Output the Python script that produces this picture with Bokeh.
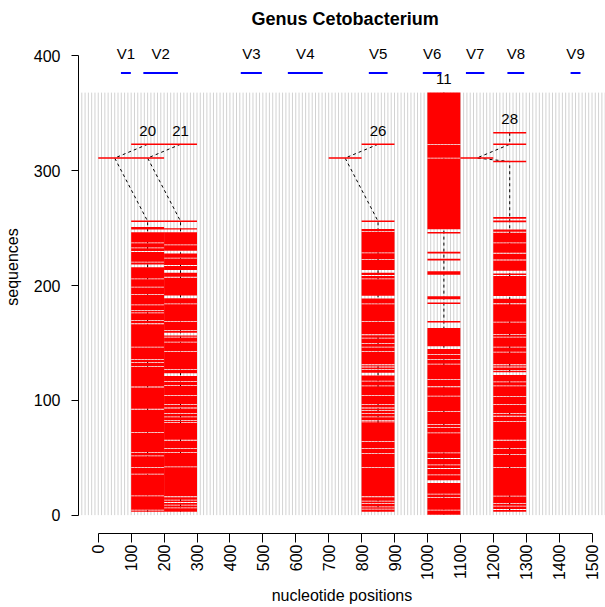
import math
import numpy as np
from bokeh.plotting import figure
from bokeh.models import Range1d, FixedTicker
from bokeh.embed import file_html
from bokeh.resources import INLINE
from bokeh.core.properties import value

FONT = "Liberation Sans"

title = "Genus Cetobacterium"
x_label = "nucleotide positions"
y_label = "sequences"
x_ticks = [0, 100, 200, 300, 400, 500, 600, 700, 800, 900, 1000, 1100, 1200, 1300, 1400, 1500]
y_ticks = [0, 100, 200, 300, 400]
n_sequences = 368

# 16S variable regions
v_names = ["V1", "V2", "V3", "V4", "V5", "V6", "V7", "V8", "V9"]
v_start = [69, 137, 433, 576, 822, 986, 1117, 1243, 1435]
v_end = [99, 242, 497, 682, 879, 1043, 1173, 1294, 1465]

# clusters: label and nucleotide span
cluster_ids = ["20", "21", "26", "11", "28"]
cluster_start = [100, 200, 800, 1000, 1200]
cluster_end = [200, 300, 900, 1100, 1300]

# cluster 20
rows_20 = [323, 256]
shift_20 = [(311, 0, 100)]
blocks_20 = [(3, 251)]
gaps_20 = [237.1, 232.8, 229.6, 220.3, 205.8, 198.6, 192.2, 183.2, 178.3, 176.2, 169.6,
           166.7, 146.4, 135.4, 132.8, 129.6, 111.6, 92.2, 71.9, 54.5, 51.6, 41.4, 35.7,
           16.8, 4.3]
wide_20 = [247.5, 217.0]

# cluster 21
rows_21 = [323, 256]
shift_21 = [(311, 100, 200)]
blocks_21 = [(3, 249.8)]
gaps_21 = [235.4, 223.8, 217.4, 207.2, 184.0, 168.7, 160.9, 155.1, 150.7, 142.6, 127.0,
           116.5, 113.0, 104.3, 96.2, 93.3, 88.4, 85.5, 82.6, 80.6, 65.2, 58.0, 54.5,
           42.0, 16.0, 13.1, 11.0, 8.7, 6.4]
wide_21 = [247.5, 229.0, 212.2, 190.1, 157.7, 122.3]

# cluster 26
rows_26 = [323, 256]
shift_26 = [(311, 700, 800)]
blocks_26 = [(3, 249.3)]
gaps_26 = [247.2, 228.4, 222.6, 208.7, 205.8, 184.0, 168.7, 157.1, 154.2, 149.3, 146.4,
           142.6, 131.0, 129.0, 127.0, 116.8, 112.5, 104.3, 96.2, 93.3, 91.3, 88.4, 85.5,
           82.6, 81.2, 64.3, 58.0, 53.6, 41.4, 16.0, 12.2, 10.1, 7.2, 5.2]
wide_26 = [212.2, 189.9, 122.9]

# cluster 11
rows_11 = [245.9, 228.6, 222.5, 184.6, 168.4]
shift_11 = []
blocks_11 = [(249, 368), (209.3, 212.4), (188.1, 190.7), (0.3, 163)]
gaps_11 = [323, 311, 140.0, 135.4, 131.6, 118.1, 111.8, 103.7, 90.1, 79.1, 76.2, 71.6,
           54.2, 49.3, 43.8, 40.6, 35.1, 18.3, 15.4, 4.3]
wide_11 = [145.8, 29.1]

# cluster 28
rows_28 = [333, 323, 308, 258.9, 255.9]
shift_28 = [(311, 1100, 1200)]
blocks_28 = [(3, 248.7)]
gaps_28 = [246.4, 237.1, 228.1, 222.2, 208.7, 184.1, 168.1, 157.4, 155.1, 146.4, 142.0,
           131.0, 129.0, 126.1, 116.0, 112.5, 103.5, 96.5, 88.4, 86.1, 81.7, 65.2, 58.0,
           53.0, 41.4, 16.5, 10.1, 7.8, 4.9]
wide_28 = [211.6, 189.6, 123.2]

clusters = {
    "20": (rows_20, shift_20, blocks_20, gaps_20, wide_20),
    "21": (rows_21, shift_21, blocks_21, gaps_21, wide_21),
    "26": (rows_26, shift_26, blocks_26, gaps_26, wide_26),
    "11": (rows_11, shift_11, blocks_11, gaps_11, wide_11),
    "28": (rows_28, shift_28, blocks_28, gaps_28, wide_28),
}

# frame spans the whole canvas top so the title can sit inside it as text
Y_TOP = 416 + 37 / 1.148
p = figure(width=605, height=607, x_range=Range1d(-60, 1541), y_range=Range1d(-16, Y_TOP),
           output_backend="svg", toolbar_location=None,
           min_border_left=77, min_border_right=0, min_border_top=0, min_border_bottom=74)
p.xgrid.visible = False
p.ygrid.visible = False
p.outline_line_color = None
p.background_fill_color = "white"
p.border_fill_color = "white"

# background nucleotide grid
grid_x = np.arange(-50, 1551, 10)
p.segment(x0=grid_x, x1=grid_x, y0=0, y1=n_sequences, line_color="#d2d2d2", line_width=1)

HALF = 0.7
q_left, q_right, q_bottom, q_top = [], [], [], []
dash_paths_x, dash_paths_y = [], []
lab_x, lab_y = [], []
for cid, x0, x1 in zip(cluster_ids, cluster_start, cluster_end):
    rows, shifts, blocks, gaps, wide = clusters[cid]
    mid = (x0 + x1) / 2
    pts = []
    for y in rows:
        q_left.append(x0); q_right.append(x1)
        q_bottom.append(y - HALF); q_top.append(y + HALF)
        pts.append((y, mid))
    for (y, sx0, sx1) in shifts:
        q_left.append(sx0); q_right.append(sx1)
        q_bottom.append(y - HALF); q_top.append(y + HALF)
        pts.append((y, (sx0 + sx1) / 2))
    cuts = [(g, 0.7) for g in gaps] + [(g, 2.4) for g in wide]
    for lo, hi in blocks:
        inside = sorted([c for c in cuts if lo < c[0] < hi], key=lambda c: -c[0])
        top = hi
        for y, w in inside:
            q_left.append(x0); q_right.append(x1)
            q_bottom.append(y + w / 2); q_top.append(top)
            top = y - w / 2
        q_left.append(x0); q_right.append(x1)
        q_bottom.append(lo); q_top.append(top)
        pts.append((lo, mid)); pts.append((hi, mid))
    pts.sort(key=lambda t: -t[0])
    dash_paths_x.append([t[1] for t in pts])
    dash_paths_y.append([t[0] for t in pts])
    lab_x.append(pts[0][1])
    lab_y.append(pts[0][0] + 12)

p.multi_line(xs=dash_paths_x, ys=dash_paths_y, line_color="black", line_width=1, line_dash="3 3")

p.quad(left=q_left, right=q_right, bottom=q_bottom, top=q_top,
       fill_color="#ff0000", line_color=None)

p.text(x=lab_x, y=lab_y, text=cluster_ids, text_font=value(FONT), text_font_size="15px",
       text_align="center", text_baseline="middle", text_color="black")

# variable regions
v_mid = [(a + b) / 2 for a, b in zip(v_start, v_end)]
p.segment(x0=v_start, x1=v_end, y0=385, y1=385, line_color="#0000ff", line_width=2)
p.text(x=v_mid, y=[402] * len(v_mid), text=v_names, text_font=value(FONT), text_font_size="15px",
       text_align="center", text_baseline="middle", text_color="black")

# title
p.text(x=[750], y=[416 + 19 / 1.148], text=[title], text_font=value(FONT), text_font_size="18px",
       text_font_style="bold", text_align="center", text_baseline="middle", text_color="black")

# axes
for ax in (p.xaxis[0], p.yaxis[0]):
    ax.axis_line_color = "black"
    ax.major_tick_line_color = "black"
    ax.minor_tick_line_color = None
    ax.major_tick_in = 0
    ax.major_label_text_font = FONT
    ax.major_label_text_font_size = "16px"
    ax.major_label_text_color = "black"
    ax.axis_label_text_font = FONT
    ax.axis_label_text_font_size = "16px"
    ax.axis_label_text_font_style = "normal"
    ax.axis_label_text_color = "black"

p.xaxis.ticker = FixedTicker(ticks=x_ticks)
p.xaxis.bounds = (0, 1500)
p.xaxis.major_label_orientation = math.pi / 2
p.xaxis.major_tick_out = 9
p.xaxis.major_label_standoff = 2
p.xaxis.axis_label = x_label
p.xaxis.axis_label_standoff = 4

p.yaxis.ticker = FixedTicker(ticks=y_ticks)
p.yaxis.bounds = (0, 400)
p.yaxis.major_tick_out = 7
p.yaxis.major_label_standoff = 11
p.yaxis.axis_label = y_label
p.yaxis.axis_label_standoff = 10

open("out.html", "w").write(file_html(p, INLINE))
